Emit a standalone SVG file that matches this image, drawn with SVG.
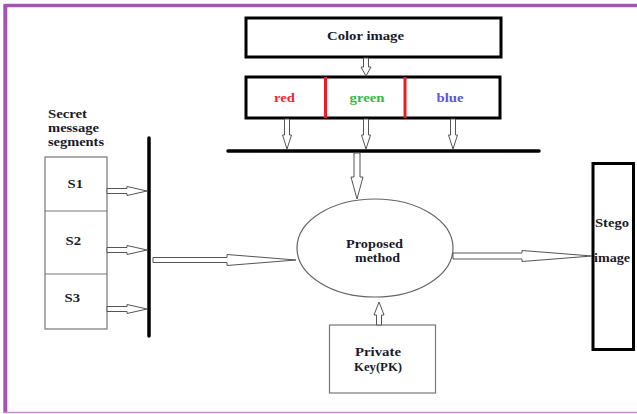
<svg xmlns="http://www.w3.org/2000/svg" width="637" height="414" viewBox="0 0 637 414">
<style>
.t{font-family:"Liberation Serif","Times New Roman",serif;font-weight:bold;font-size:13px;fill:#1a1a2a}
.box{fill:#fff;stroke:#000;stroke-width:3}
.thin{fill:#fff;stroke:#777;stroke-width:1.2}
.arr{fill:#fff;stroke:#555;stroke-width:1}
.bar{stroke:#000;stroke-width:3.5;stroke-linecap:round}
</style>
<rect width="637" height="414" fill="#fff"/>
<g id="frame">
<line x1="5" y1="5.5" x2="637" y2="5.5" stroke="#a453b3" stroke-width="3.5"/>
<line x1="5.3" y1="4" x2="5.3" y2="413" stroke="#a453b3" stroke-width="4"/>
<line x1="4" y1="412.5" x2="637" y2="412.5" stroke="#c58ad0" stroke-width="1.5"/>
</g>
<g id="color-image">
<rect class="box" x="246" y="18" width="255" height="39"/>
<text class="t" x="327" y="40" textLength="77" lengthAdjust="spacingAndGlyphs">Color image</text>
</g>
<g id="rgb">
<rect class="box" x="246" y="77" width="254" height="41"/>
<line x1="325.5" y1="77" x2="325.5" y2="118" stroke="#ee1c25" stroke-width="3"/>
<line x1="405" y1="77" x2="405" y2="118" stroke="#ee1c25" stroke-width="3"/>
<text class="t" x="274" y="102" textLength="21" lengthAdjust="spacingAndGlyphs" style="fill:#ee2a36">red</text>
<text class="t" x="349.5" y="102" textLength="35" lengthAdjust="spacingAndGlyphs" style="fill:#3cb54a">green</text>
<text class="t" x="436.5" y="102" textLength="27" lengthAdjust="spacingAndGlyphs" style="fill:#5a55e6">blue</text>
</g>
<g id="secret-label">
<text class="t" x="48" y="118" textLength="39" lengthAdjust="spacingAndGlyphs">Secret</text>
<text class="t" x="48" y="132" textLength="51" lengthAdjust="spacingAndGlyphs">message</text>
<text class="t" x="48" y="146" textLength="56" lengthAdjust="spacingAndGlyphs">segments</text>
</g>
<g id="segments">
<rect class="thin" x="45" y="157" width="62" height="172"/>
<line x1="45" y1="211" x2="107" y2="211" stroke="#777" stroke-width="1.2"/>
<line x1="45" y1="274" x2="107" y2="274" stroke="#777" stroke-width="1.2"/>
<text class="t" x="67.5" y="188" textLength="15.5" lengthAdjust="spacingAndGlyphs">S1</text>
<text class="t" x="65.5" y="245" textLength="15.5" lengthAdjust="spacingAndGlyphs">S2</text>
<text class="t" x="64.5" y="302" textLength="15.5" lengthAdjust="spacingAndGlyphs">S3</text>
</g>
<g id="proposed">
<ellipse cx="375" cy="248" rx="78" ry="49" fill="#fff" stroke="#666" stroke-width="1.2"/>
<text class="t" x="346" y="248" textLength="57" lengthAdjust="spacingAndGlyphs">Proposed</text>
<text class="t" x="355" y="262" textLength="45" lengthAdjust="spacingAndGlyphs">method</text>
</g>
<g id="private-key">
<rect class="thin" x="329.5" y="325" width="106" height="68"/>
<text class="t" x="355" y="356" textLength="46" lengthAdjust="spacingAndGlyphs">Private</text>
<text class="t" x="354" y="371" textLength="48" lengthAdjust="spacingAndGlyphs">Key(PK)</text>
</g>
<g id="stego">
<rect class="box" x="593" y="163.5" width="40.5" height="186" stroke-width="2.5"/>
<text class="t" x="595" y="227" textLength="34" lengthAdjust="spacingAndGlyphs">Stego</text>
<text class="t" x="594" y="262" textLength="36" lengthAdjust="spacingAndGlyphs">image</text>
</g>
<g id="connectors">
<line class="bar" x1="228" y1="151" x2="539" y2="151"/>
<line class="bar" x1="149" y1="138" x2="149" y2="336"/>
<polygon class="arr" points="363.5,58 368.5,58 368.5,67 371,67 366,76 361,67 363.5,67"/>
<polygon class="arr" points="284.5,119 289.5,119 289.5,135 291.5,135 287,149 282.5,135 284.5,135"/>
<polygon class="arr" points="363.5,119 368.5,119 368.5,135 370.5,135 366,149 361.5,135 363.5,135"/>
<polygon class="arr" points="450.5,119 455.5,119 455.5,135 457.5,135 453,149 448.5,135 450.5,135"/>
<polygon class="arr" points="354,153 360,153 360,177 363,177 357,199 351,177 354,177"/>
<polygon class="arr" points="107,188.5 127,188.5 127,186.5 147,191 127,195.5 127,193.5 107,193.5"/>
<polygon class="arr" points="107,247.5 127,247.5 127,245.5 147,250 127,254.5 127,252.5 107,252.5"/>
<polygon class="arr" points="107,306.5 127,306.5 127,304.5 147,309 127,313.5 127,311.5 107,311.5"/>
<polygon class="arr" points="153,257.5 227,257.5 227,254.5 296,260 227,265.5 227,262.5 153,262.5"/>
<polygon class="arr" points="453,253 522,253 522,250.5 592,256 522,261.5 522,259 453,259"/>
<polygon class="arr" points="376.5,325 381.5,325 381.5,315 384,315 379,302 374,315 376.5,315"/>
</g>
</svg>
